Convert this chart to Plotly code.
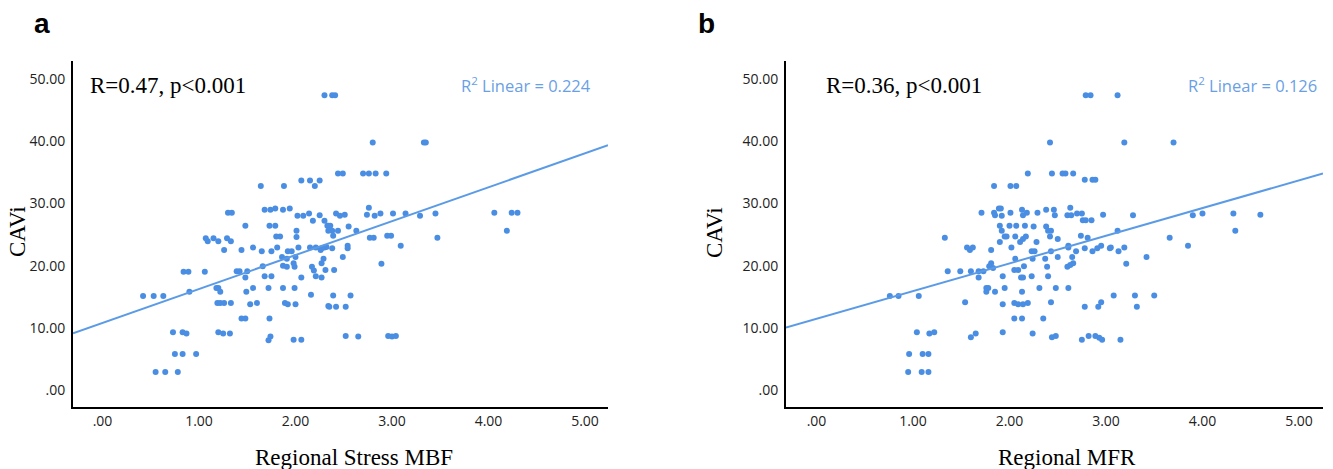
import numpy as np
import plotly.graph_objects as go

# ---------------- data ----------------
stress_mbf = [
    2.30, 2.38, 2.41, 2.80, 3.33, 3.35, 2.44, 2.49, 2.70, 2.76, 2.83, 2.94,
    1.64, 1.88, 2.06, 2.15, 2.25, 2.20, 1.30, 1.34, 1.68, 1.74, 1.79, 1.87, 1.94,
    2.02, 2.08, 2.14, 2.18, 2.25, 2.30, 2.34, 2.34, 2.42, 2.46, 2.51,
    2.74, 2.76, 2.82, 2.88, 3.01, 3.14, 3.29, 3.45, 4.06, 4.24, 4.30, 4.19,
    1.48, 1.73, 1.79, 2.01, 2.01, 1.80, 1.84,
    1.07, 1.09, 1.15, 1.20, 1.29, 1.33,
    1.26, 1.44, 1.56, 1.65, 1.75, 1.81, 1.92, 1.96, 2.03, 2.15, 2.21, 2.26, 2.30,
    2.33, 2.36, 2.38, 2.39, 2.44, 2.55, 2.63,
    2.77, 2.81, 2.95, 2.99, 3.47, 3.09,
    2.27, 2.32, 2.38, 2.54, 2.54, 2.49,
    2.29, 2.27, 2.31, 2.40, 2.27, 2.89,
    1.86, 1.91, 1.87, 1.91, 1.98, 1.99, 2.00,
    1.66, 0.84, 0.89, 1.06, 1.39, 1.42, 1.50, 1.48, 1.68, 1.75, 2.06,
    2.17, 2.19, 2.21,
    0.42, 0.53, 0.63, 0.90,
    1.18, 1.22, 1.20, 1.49, 1.56, 1.72, 1.87, 1.99,
    2.16, 2.34, 2.39, 2.57,
    1.19, 1.22, 1.26, 1.33, 1.53, 1.60, 1.89, 1.92, 2.00,
    2.35, 2.42, 2.52,
    1.44, 1.48, 1.73,
    0.73, 0.83, 0.87, 1.20, 1.25, 1.32,
    1.74, 1.72, 1.98, 2.06,
    2.52, 2.65, 2.96, 3.00, 3.04,
    0.75, 0.83, 0.97,
    0.55, 0.65, 0.78,
]
cavi_a = [
    47.4, 47.4, 47.4, 39.8, 39.8, 39.8, 34.8, 34.8, 34.8, 34.8, 34.8, 34.8,
    32.8, 32.8, 33.7, 33.7, 33.7, 32.8, 28.5, 28.5, 29.0, 29.0, 29.2, 29.0, 29.2,
    28.0, 28.0, 28.4, 27.2, 28.1, 27.2, 26.4, 25.6, 28.4, 28.0, 28.2,
    28.2, 29.3, 28.0, 28.4, 28.4, 28.4, 28.0, 28.4, 28.5, 28.5, 28.5, 25.6,
    26.4, 26.4, 26.4, 25.6, 24.6, 24.7, 24.7,
    24.4, 23.9, 24.4, 23.9, 24.4, 23.9,
    22.5, 22.5, 22.9, 22.3, 22.3, 22.9, 22.3, 22.3, 22.9, 22.9, 22.9, 22.5, 22.9,
    26.4, 26.4, 25.6, 24.8, 25.6, 26.3, 25.6,
    24.5, 24.5, 24.8, 24.8, 24.5, 23.2,
    22.8, 23.0, 22.8, 23.2, 22.8, 21.4,
    21.1, 20.4, 19.3, 19.3, 18.1, 20.3,
    21.4, 21.1, 20.0, 19.8, 20.4, 19.8, 21.4,
    19.9, 19.0, 19.0, 19.0, 19.1, 19.1, 19.1, 18.1, 18.3, 18.3, 18.1,
    19.8, 19.2, 18.3,
    15.1, 15.1, 15.1, 15.8,
    16.4, 15.8, 16.4, 15.8, 16.4, 16.4, 16.4, 16.4,
    15.3, 13.5, 15.2, 15.2,
    14.0, 14.0, 14.0, 14.0, 13.8, 14.0, 14.0, 13.8, 13.8,
    13.4, 13.4, 13.4,
    11.5, 11.5, 11.5,
    9.3, 9.3, 9.1, 9.3, 9.1, 9.1,
    8.6, 8.0, 8.1, 8.1,
    8.7, 8.6, 8.7, 8.6, 8.7,
    5.8, 5.8, 5.8,
    2.9, 2.9, 2.9,
]

mfr = [
    2.79, 2.84, 3.12, 2.42, 3.19, 3.70,
    2.19, 2.44, 2.55, 2.58, 2.66, 2.78, 2.86, 2.89,
    1.84, 2.01, 2.07,
    1.71, 1.84, 1.89, 1.91, 1.92, 1.85,
    2.01, 2.13, 2.14, 2.18, 2.29, 2.38, 2.46, 2.47,
    2.63, 2.60, 2.64, 2.70, 2.75, 2.97, 3.28,
    3.90, 4.00, 4.32, 4.60, 4.34,
    2.76, 2.79, 2.85,
    1.90, 2.00, 2.07, 2.16, 2.25,
    1.92, 1.95, 1.97, 1.90,
    2.06, 2.11, 2.14, 2.17,
    2.28, 2.38, 2.40, 2.43, 2.42, 2.50,
    2.74, 2.81, 3.12, 3.66, 3.85,
    1.33,
    1.56, 1.59, 1.62, 1.81, 2.02,
    2.23, 2.26, 2.37, 2.43, 2.06, 2.24,
    2.61, 2.61, 2.69, 2.78, 2.86, 2.91, 2.95, 3.04, 3.05, 3.13, 3.19,
    2.50, 2.65, 3.42,
    2.39, 2.60, 2.63, 2.66, 3.21,
    1.81, 1.79, 1.83,
    1.36, 1.49, 1.60, 1.68, 1.73, 1.68,
    2.05, 2.09, 2.15, 2.14, 2.12,
    1.93, 2.23, 2.40,
    0.76, 0.85, 1.06,
    1.54,
    1.76, 1.78, 1.76, 1.85, 1.95,
    2.13, 2.31, 2.48, 2.61, 2.43,
    1.93, 2.05, 2.09, 2.14, 2.19,
    3.08, 3.30, 3.50, 2.78, 2.92, 2.95, 3.32,
    2.05, 2.13, 2.35,
    1.04, 1.17, 1.22, 1.60, 1.65, 1.93, 2.24, 2.44, 2.48,
    2.75, 2.82, 2.89, 2.93, 2.96, 3.15,
    0.96, 1.10, 1.16,
    0.95, 1.09, 1.16,
]
cavi_b = [
    47.4, 47.4, 47.4, 39.8, 39.8, 39.8,
    34.8, 34.8, 34.8, 34.8, 34.8, 33.8, 33.8, 33.8,
    32.8, 32.8, 32.8,
    28.5, 28.5, 29.2, 29.2, 28.0, 28.1,
    28.5, 29.0, 28.1, 28.5, 28.5, 29.0, 29.0, 28.1,
    29.3, 28.1, 28.1, 28.4, 28.4, 28.2, 28.1,
    28.1, 28.4, 28.4, 28.2, 25.6,
    27.3, 27.3, 27.3,
    26.4, 26.4, 26.4, 26.4, 26.3,
    25.6, 24.7, 24.7, 23.8,
    24.7, 23.8, 24.3, 24.7,
    23.8, 26.3, 25.6, 25.6, 24.7, 24.3,
    24.8, 24.5, 25.6, 24.5, 23.2,
    24.5,
    22.9, 22.5, 22.9, 22.5, 22.9,
    22.3, 22.3, 21.1, 22.3, 21.1, 21.1,
    23.2, 22.9, 22.3, 22.8, 22.3, 22.8, 23.2, 22.8, 22.9, 22.3, 22.9,
    21.4, 21.4, 21.4,
    19.8, 19.8, 20.1, 20.4, 20.3,
    20.4, 19.9, 19.6,
    19.1, 19.1, 19.1, 19.1, 19.1, 18.1,
    19.3, 19.3, 19.9, 18.1, 18.1,
    18.3, 18.3, 18.3,
    15.1, 15.1, 15.1,
    14.1,
    16.4, 16.4, 15.8, 15.8, 16.4,
    15.8, 16.4, 16.4, 16.4, 14.1,
    13.8, 14.0, 13.8, 13.8, 14.0,
    15.2, 15.2, 15.2, 13.4, 13.4, 14.1, 13.4,
    11.5, 11.5, 11.5,
    9.3, 9.1, 9.3, 8.5, 9.1, 9.3, 9.1, 8.5, 8.7,
    8.1, 8.7, 8.7, 8.4, 8.1, 8.1,
    5.8, 5.8, 5.8,
    2.9, 2.9, 2.9,
]

# fitted lines (intercept, slope) as shown in the picture
fit_a = (10.8, 5.45)
fit_b = (11.45, 4.45)

x_tickvals = [0, 1, 2, 3, 4, 5]
x_ticktext = [".00", "1.00", "2.00", "3.00", "4.00", "5.00"]
y_tickvals = [0, 10, 20, 30, 40, 50]
y_ticktext = [".00", "10.00", "20.00", "30.00", "40.00", "50.00"]

# ---------------- styling ----------------
W, H = 1333, 469
PT_COLOR = "#4A8EE3"
LINE_COLOR = "#5B9BE6"
R2_COLOR = "#6A9FE6"
SERIF = "Liberation Serif, Times New Roman, serif"
SANS = "Open Sans, sans-serif"

xr_a = [-0.306, 5.238]
xr_b = [-0.316, 5.249]
yr = [-2.73, 52.9]

def px(x):
    return x / W

def py(y):
    return 1 - y / H

fig = go.Figure()

fig.add_trace(go.Scatter(x=stress_mbf, y=cavi_a, mode="markers",
                         marker=dict(size=6, color=PT_COLOR),
                         xaxis="x", yaxis="y", showlegend=False))
fig.add_trace(go.Scatter(x=mfr, y=cavi_b, mode="markers",
                         marker=dict(size=6, color=PT_COLOR),
                         xaxis="x2", yaxis="y2", showlegend=False))

xa = np.array(xr_a)
fig.add_trace(go.Scatter(x=xa, y=fit_a[0] + fit_a[1] * xa, mode="lines",
                         line=dict(color=LINE_COLOR, width=2),
                         xaxis="x", yaxis="y", showlegend=False))
xb = np.array(xr_b)
fig.add_trace(go.Scatter(x=xb, y=fit_b[0] + fit_b[1] * xb, mode="lines",
                         line=dict(color=LINE_COLOR, width=2),
                         xaxis="x2", yaxis="y2", showlegend=False))

common_x = dict(showgrid=False, zeroline=False, showline=True, linecolor="black",
                linewidth=2, ticks="", tickvals=x_tickvals, ticktext=x_ticktext,
                tickfont=dict(family=SANS, size=14, color="#222"),
                ticklabelstandoff=0)
common_y = dict(showgrid=False, zeroline=False, showline=True, linecolor="black",
                linewidth=2, ticks="", tickvals=y_tickvals, ticktext=y_ticktext,
                tickfont=dict(family=SANS, size=14, color="#222"),
                range=yr, ticklabelstandoff=3)

ydom = [py(407), py(61)]
fig.update_layout(
    width=W, height=H,
    margin=dict(l=0, r=0, t=0, b=0),
    paper_bgcolor="white", plot_bgcolor="white",
    xaxis=dict(domain=[px(73), px(608)], range=xr_a, anchor="y", **common_x),
    yaxis=dict(domain=ydom, anchor="x", **common_y),
    xaxis2=dict(domain=[px(786), px(1323)], range=xr_b, anchor="y2", **common_x),
    yaxis2=dict(domain=ydom, anchor="x2", **common_y),
)

ann = []
def add(text, x, y, size, family, color="black", xanchor="center", yanchor="middle", angle=0, bold=False):
    if bold:
        text = "<b>" + text + "</b>"
    ann.append(dict(text=text, x=px(x), y=py(y), xref="paper", yref="paper",
                    showarrow=False, xanchor=xanchor, yanchor=yanchor, textangle=angle,
                    font=dict(family=family, size=size, color=color)))

add("a", 42, 24, 28, "Liberation Sans, Arial, sans-serif", bold=True)
add("b", 706, 24, 28, "Liberation Sans, Arial, sans-serif", bold=True)
add("R=0.47, p&lt;0.001", 88, 85, 23, SERIF, xanchor="left")
add("R=0.36, p&lt;0.001", 824, 85, 23, SERIF, xanchor="left")
add("R<sup>2</sup> Linear = 0.224", 593, 85, 16.5, SANS, color=R2_COLOR, xanchor="right")
add("R<sup>2</sup> Linear = 0.126", 1319, 85, 16.5, SANS, color=R2_COLOR, xanchor="right")
add("CAVi", 17, 232, 23, SERIF, angle=-90)
add("CAVi", 714, 232, 23, SERIF, angle=-90)
add("Regional Stress MBF", 354, 457, 23, SERIF)
add("Regional MFR", 1067, 457, 23, SERIF)
fig.update_layout(annotations=ann)

fig.write_html("out.html", config={"displayModeBar": False},
               post_script="document.body.style.margin='0';document.body.style.padding='0';")
